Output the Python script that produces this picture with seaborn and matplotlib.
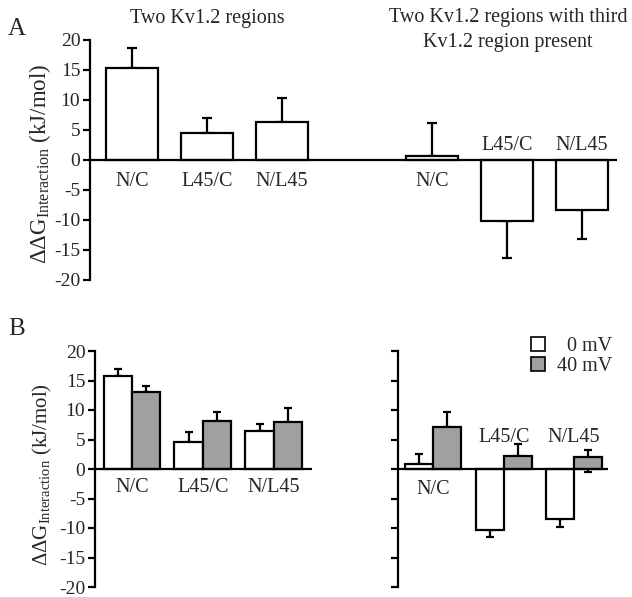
import numpy as np
import pandas as pd
import matplotlib
matplotlib.use("Agg")
import matplotlib.pyplot as plt
import seaborn as sns
from matplotlib.patches import Patch

# ---------------- data ----------------
# Panel A
keys_A = ["N/C", "L45/C", "N/L45", "N/C*", "L45/C*", "N/L45*"]
labels_A = ["N/C", "L45/C", "N/L45", "N/C", "L45/C", "N/L45"]
order_A = ["N/C", "L45/C", "N/L45", "gap", "N/C*", "L45/C*", "N/L45*"]
values_A = [15.4, 4.5, 6.3, 0.7, -10.2, -8.3]
err_A = [3.3, 2.5, 4.0, 5.5, 6.1, 4.8]

# Panel B
pairs_B = ["N/C", "L45/C", "N/L45"]
voltages = ["0 mV", "40 mV"]
two_0mV = [15.7, 4.55, 6.4]
two_40mV = [13.0, 8.1, 7.9]
two_err_0mV = [1.2, 1.65, 1.3]
two_err_40mV = [1.0, 1.5, 2.5]
three_0mV = [0.8, -10.3, -8.4]
three_40mV = [7.1, 2.2, 2.0]
three_err_0mV = [1.7, 1.2, 1.4]
three_err_40mV = [2.5, 2.0, 1.2]
three_err_40mV_low = [0.0, 0.0, 2.5]

title_left = "Two Kv1.2 regions"
title_right_1 = "Two Kv1.2 regions with third"
title_right_2 = "Kv1.2 region present"
ylabel = "ΔΔG$_{\\mathrm{Interaction}}$ (kJ/mol)"
yticks = [-20, -15, -10, -5, 0, 5, 10, 15, 20]

GRAY = "#a0a0a0"
LW = 1.6
FS = 14.5

# ---------------- style ----------------
sns.set_style("white")
plt.rcParams["font.family"] = ["Liberation Serif", "DejaVu Serif"]
plt.rcParams["mathtext.fontset"] = "custom"
plt.rcParams["mathtext.rm"] = "Liberation Serif"
plt.rcParams["mathtext.it"] = "Liberation Serif:italic"
plt.rcParams["axes.unicode_minus"] = False

W, H = 632, 597
fig = plt.figure(figsize=(W / 100, H / 100), dpi=100)


def px_axes(x0, x1, ytop, ybot):
    return fig.add_axes([x0 / W, 1 - ybot / H, (x1 - x0) / W, (ybot - ytop) / H])


def style_axes(ax, show_labels=True):
    ax.set_ylim(-20, 20)
    ax.set_yticks(yticks)
    ax.set_xticks([])
    ax.set_xlabel("")
    ax.set_ylabel("")
    for s in ["top", "right", "bottom"]:
        ax.spines[s].set_visible(False)
    ax.spines["left"].set_linewidth(LW)
    ax.spines["left"].set_color("black")
    ax.tick_params(axis="y", direction="out", length=5, width=LW, color="black",
                   labelsize=FS - 0.5, pad=2, left=True, labelleft=show_labels)
    ax.axhline(0, color="black", lw=LW, zorder=5)
    ax.set_facecolor("none")


# ---------------- Panel A ----------------
axA = px_axes(90, 617, 40, 280)
dfA = pd.DataFrame({"key": keys_A, "value": values_A})
sns.barplot(data=dfA, x="key", y="value", order=order_A, ax=axA, color="white",
            edgecolor="black", linewidth=LW, errorbar=None, width=0.7, zorder=3)
posA = [order_A.index(k) for k in keys_A]
vA = np.array(values_A)
eA = np.array(err_A)
lowA = np.where(vA < 0, eA, 0)
upA = np.where(vA >= 0, eA, 0)
axA.errorbar(posA, vA, yerr=[lowA, upA], fmt="none", ecolor="black",
             elinewidth=LW, capsize=3.6, capthick=LW, zorder=2)
axA.set_xlim(-0.56, 6.47)
style_axes(axA)
for p, v, lab in zip(posA, values_A, labels_A):
    if v >= 0:
        axA.text(p, -2.0, lab, ha="center", va="top", fontsize=FS)
    else:
        axA.text(p, 1.7, lab, ha="center", va="baseline", fontsize=FS)

# ---------------- Panel B ----------------
def panel_B(ax, v0, v40, e0_up, e40_up, e0_low, e40_low, label_pos):
    df = pd.DataFrame({
        "pair": pairs_B * 2,
        "voltage": [voltages[0]] * 3 + [voltages[1]] * 3,
        "value": list(v0) + list(v40),
    })
    sns.barplot(data=df, x="pair", y="value", hue="voltage", order=pairs_B,
                hue_order=voltages, palette={voltages[0]: "white", voltages[1]: GRAY},
                edgecolor="black", linewidth=LW, errorbar=None, width=0.8,
                legend=False, ax=ax, zorder=3)
    x = np.arange(len(pairs_B))
    for off, vals, up, low in [(-0.2, v0, e0_up, e0_low), (0.2, v40, e40_up, e40_low)]:
        vals = np.array(vals)
        up = np.array(up)
        low = np.array(low)
        lo = np.where(vals < 0, up, low)
        hi = np.where(vals >= 0, up, 0)
        ax.errorbar(x + off, vals, yerr=[lo, hi], fmt="none", ecolor="black",
                    elinewidth=LW, capsize=2.6, capthick=LW, zorder=2)
    for i, (lab, lp) in enumerate(zip(pairs_B, label_pos)):
        if lp < 0:
            ax.text(i, lp, lab, ha="center", va="top", fontsize=FS)
        else:
            ax.text(i, lp, lab, ha="center", va="baseline", fontsize=FS)


axB1 = px_axes(95, 312, 351, 587)
panel_B(axB1, two_0mV, two_40mV, two_err_0mV, two_err_40mV,
        [0, 0, 0], [0, 0, 0], [-1.5, -1.5, -1.5])
axB1.set_xlim(-0.52, 2.54)
style_axes(axB1)

axB2 = px_axes(398, 608, 351, 587)
panel_B(axB2, three_0mV, three_40mV, three_err_0mV, three_err_40mV,
        [0, 0, 0], three_err_40mV_low, [-1.9, 4.55, 4.55])
axB2.set_xlim(-0.5, 2.48)
style_axes(axB2, show_labels=False)

handles = [Patch(facecolor="white", edgecolor="black", linewidth=1.2, label="  0 mV"),
           Patch(facecolor=GRAY, edgecolor="black", linewidth=1.2, label="40 mV")]
fig.legend(handles=handles, loc="upper right", bbox_to_anchor=(612 / W, 1 - 337 / H),
           frameon=False, fontsize=FS, handlelength=0.7, handleheight=0.7,
           handletextpad=0.6, labelspacing=0.05, borderpad=0, borderaxespad=0)

# ---------------- texts ----------------
fig.text(207 / W, 1 - 23 / H, title_left, ha="center", va="baseline", fontsize=FS)
fig.text(508 / W, 1 - 22 / H, title_right_1, ha="center", va="baseline", fontsize=FS)
fig.text(508 / W, 1 - 47 / H, title_right_2, ha="center", va="baseline", fontsize=FS)
fig.text(8 / W, 1 - 35 / H, "A", ha="left", va="baseline", fontsize=18)
fig.text(8 / W, 1 - 335 / H, "B", ha="left", va="baseline", fontsize=18)
fig.text(40 / W, 1 - 164 / H, ylabel, rotation=90, ha="center", va="center", fontsize=16.5)
fig.text(42 / W, 1 - 475 / H, ylabel, rotation=90, ha="center", va="center", fontsize=15)

fig.savefig("out.png", dpi=100, facecolor="white")
